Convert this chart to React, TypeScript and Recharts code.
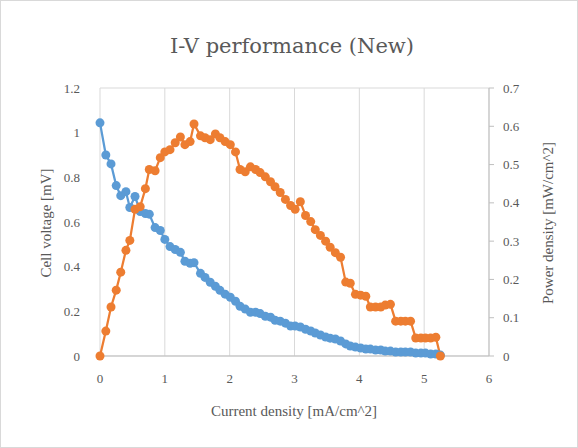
import { LineChart, CartesianGrid, XAxis, YAxis, Line, Label } from "recharts";

// current density [mA/cm^2]
const current = [
  0, 0.09, 0.17, 0.25, 0.32, 0.4, 0.46, 0.54, 0.62, 0.7, 0.76, 0.85, 0.93, 1.0,
  1.08, 1.16, 1.24, 1.31, 1.39, 1.45, 1.55, 1.62, 1.7, 1.78, 1.85, 1.93, 2.01,
  2.09, 2.16, 2.24, 2.32, 2.4, 2.47, 2.55, 2.63, 2.7, 2.78, 2.86, 2.94, 3.01,
  3.09, 3.17, 3.25, 3.32, 3.4, 3.48, 3.55, 3.63, 3.71, 3.79, 3.86, 3.94, 4.02,
  4.1, 4.17, 4.25, 4.33, 4.4, 4.48, 4.56, 4.64, 4.71, 4.79, 4.87, 4.95, 5.02,
  5.1, 5.18, 5.25,
];

// cell voltage [mV]
const voltage = [
  1.044, 0.9, 0.86, 0.763, 0.718, 0.736, 0.665, 0.714, 0.647, 0.638, 0.635,
  0.575, 0.562, 0.522, 0.49, 0.477, 0.464, 0.424, 0.415, 0.418, 0.37, 0.352,
  0.33, 0.312, 0.294, 0.277, 0.263, 0.245, 0.223, 0.21, 0.196, 0.196, 0.19,
  0.178, 0.174, 0.16, 0.156, 0.147, 0.134, 0.134, 0.13, 0.12, 0.112, 0.103,
  0.094, 0.085, 0.08, 0.076, 0.067, 0.054, 0.045, 0.04, 0.036, 0.031, 0.031,
  0.027, 0.027, 0.022, 0.022, 0.018, 0.018, 0.018, 0.018, 0.013, 0.013, 0.013,
  0.009, 0.009, 0.004,
];

// power density [mW/cm^2]
const power = [
  0, 0.065, 0.128, 0.172, 0.219, 0.276, 0.302, 0.383, 0.39, 0.437, 0.487,
  0.484, 0.518, 0.533, 0.539, 0.557, 0.572, 0.552, 0.56, 0.606, 0.575, 0.57,
  0.565, 0.58, 0.57, 0.56, 0.552, 0.533, 0.487, 0.481, 0.494, 0.487, 0.479,
  0.468, 0.455, 0.442, 0.427, 0.409, 0.393, 0.383, 0.403, 0.367, 0.351, 0.33,
  0.315, 0.3, 0.284, 0.27, 0.258, 0.193, 0.19, 0.161, 0.159, 0.156, 0.128,
  0.128, 0.128, 0.133, 0.135, 0.091, 0.091, 0.091, 0.091, 0.047, 0.047, 0.047,
  0.047, 0.049, 0,
];

const xTicks = [0, 1, 2, 3, 4, 5, 6];
const leftTicks = [0, 0.2, 0.4, 0.6, 0.8, 1, 1.2];
const rightTicks = [0, 0.1, 0.2, 0.3, 0.4, 0.5, 0.6, 0.7];

const data = current.map((x, i) => ({ x, v: voltage[i], p: power[i] }));

const font = "'Liberation Serif', 'DejaVu Serif', serif";
const titleFont = "'DejaVu Serif', serif";
const textColor = "#595959";
const tickStyle = { fontSize: 13, fill: textColor, fontFamily: font };

export default function App() {
  return (
    <div
      style={{
        position: "absolute",
        left: 0,
        top: 0,
        width: 578,
        height: 448,
        background: "#fff",
        border: "1px solid #d9d9d9",
        boxSizing: "border-box",
      }}
    >
      <LineChart
        width={576}
        height={446}
        data={data}
        margin={{ top: 87, right: 28, bottom: 59, left: 39 }}
        style={{ position: "absolute", left: 0, top: 0 }}
      >
        <CartesianGrid stroke="#d9d9d9" strokeWidth={1} />
        <XAxis
          type="number"
          dataKey="x"
          domain={[0, 6]}
          ticks={xTicks}
          height={32}
          axisLine={{ stroke: "#bfbfbf" }}
          tickLine={false}
          tickMargin={12}
          tick={tickStyle}
        >
          <Label
            content={() => (
              <text
                x={291}
                y={45}
                textAnchor="middle"
                dominantBaseline="central"
                fontSize={21}
                fill={textColor}
                fontFamily={titleFont}
              >
                I-V performance (New)
              </text>
            )}
          />
          <Label
            content={() => (
              <text
                x={293}
                y={410}
                textAnchor="middle"
                dominantBaseline="central"
                fontSize={15}
                fill={textColor}
                fontFamily={font}
              >
                Current density [mA/cm^2]
              </text>
            )}
          />
        </XAxis>
        <YAxis
          yAxisId="left"
          domain={[0, 1.2]}
          ticks={leftTicks}
          width={60}
          axisLine={false}
          tickLine={false}
          tickMargin={14}
          tick={tickStyle}
        >
          <Label
            content={() => (
              <text
                x={45}
                y={222}
                textAnchor="middle"
                dominantBaseline="central"
                transform="rotate(-90 45 222)"
                fontSize={15}
                fill={textColor}
                fontFamily={font}
              >
                Cell voltage [mV]
              </text>
            )}
          />
        </YAxis>
        <YAxis
          yAxisId="right"
          orientation="right"
          domain={[0, 0.7]}
          ticks={rightTicks}
          width={60}
          axisLine={{ stroke: "#bfbfbf" }}
          tickLine={{ stroke: "#bfbfbf" }}
          tickSize={5}
          tickMargin={9}
          tick={tickStyle}
        >
          <Label
            content={() => (
              <text
                x={547}
                y={222}
                textAnchor="middle"
                dominantBaseline="central"
                transform="rotate(-90 547 222)"
                fontSize={15}
                fill={textColor}
                fontFamily={font}
              >
                Power density [mW/cm^2]
              </text>
            )}
          />
        </YAxis>
        <Line
          yAxisId="left"
          dataKey="v"
          stroke="#5b9bd5"
          strokeWidth={2.25}
          dot={{ r: 4.5, fill: "#5b9bd5", stroke: "#5b9bd5", strokeWidth: 0 }}
          activeDot={false}
          isAnimationActive={false}
        />
        <Line
          yAxisId="right"
          dataKey="p"
          stroke="#ed7d31"
          strokeWidth={2.25}
          dot={{ r: 4.5, fill: "#ed7d31", stroke: "#ed7d31", strokeWidth: 0 }}
          activeDot={false}
          isAnimationActive={false}
        />
      </LineChart>
    </div>
  );
}
